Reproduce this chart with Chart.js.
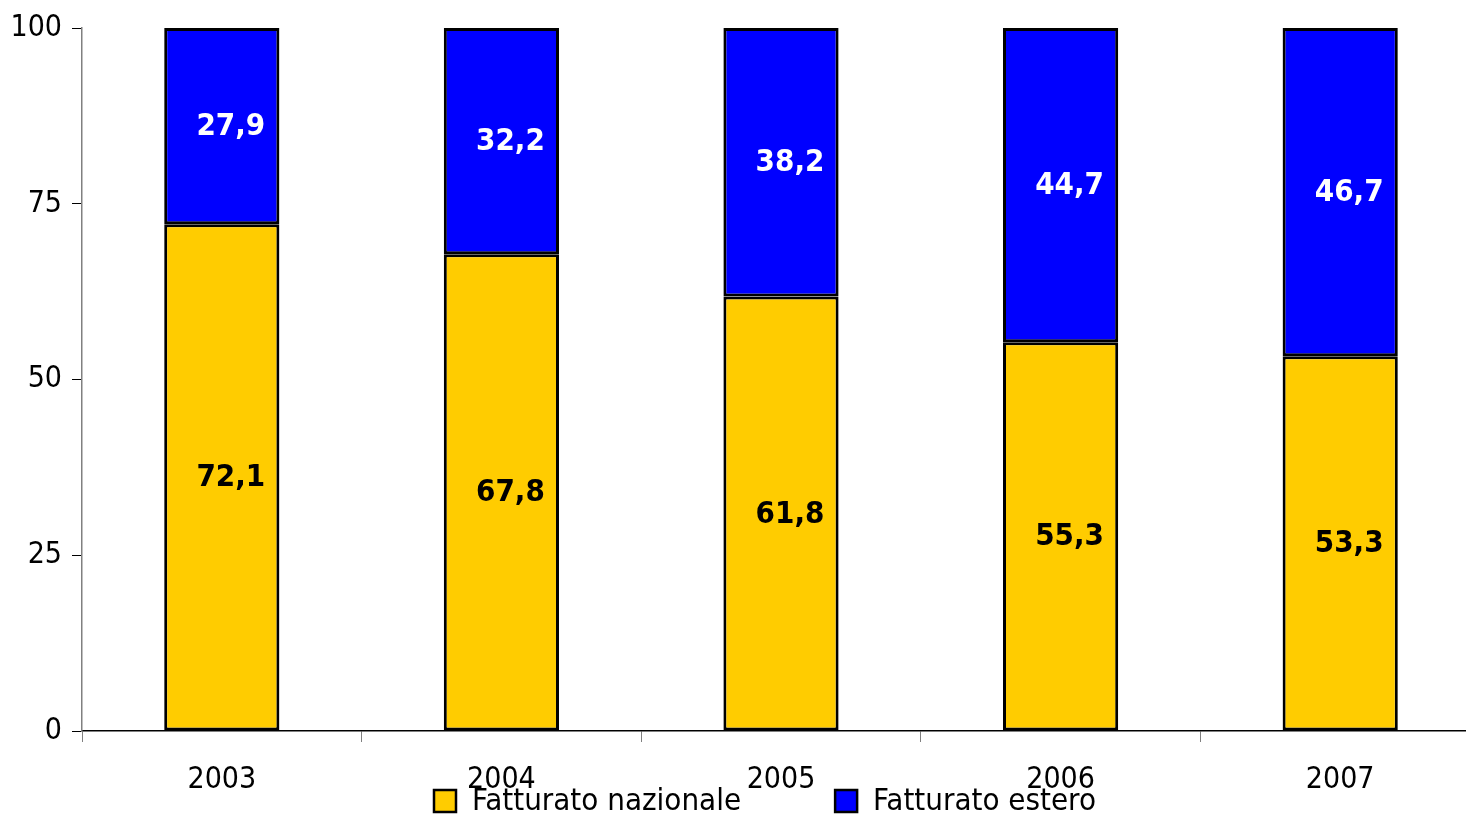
<!DOCTYPE html>
<html>
<head>
<meta charset="utf-8">
<script src="https://cdn.jsdelivr.net/npm/chart.js@4.4.1/dist/chart.umd.min.js"></script>
<style>
  html, body { margin: 0; padding: 0; background: #fff; overflow: hidden; }
  #wrap { position: relative; width: 1480px; height: 817px; }
</style>
</head>
<body>
<div id="wrap"><canvas id="chart"></canvas></div>
<script>
  // ---------- Data ----------
  const years = ["2003", "2004", "2005", "2006", "2007"];
  const nazionale = [72.1, 67.8, 61.8, 55.3, 53.3];
  const estero = [27.9, 32.2, 38.2, 44.7, 46.7];
  const yTicks = [0, 25, 50, 75, 100];

  const FONT = "'DejaVu Sans Condensed', 'DejaVu Sans', Tahoma, sans-serif";
  const COLORS = { yellow: "#FFCC00", blue: "#0000FF", ink: "#000000", axis: "#808080" };

  // value labels inside each segment
  const valueLabels = {
    id: "valueLabels",
    afterDatasetsDraw(chart) {
      const ctx = chart.ctx;
      ctx.save();
      ctx.font = "bold 31px " + FONT;
      ctx.textAlign = "center";
      ctx.textBaseline = "middle";
      chart.data.datasets.forEach((ds, i) => {
        const meta = chart.getDatasetMeta(i);
        meta.data.forEach((bar, j) => {
          const mid = (bar.y + bar.base) / 2;
          ctx.fillStyle = ds.labelColor;
          ctx.fillText(String(ds.data[j]).replace(".", ","), bar.x + 9, mid + 1);
        });
      });
      ctx.restore();
    },
  };

  // legend drawn over the bottom, overlapping the category labels like the original
  const bottomLegend = {
    id: "bottomLegend",
    afterDraw(chart) {
      const ctx = chart.ctx;
      ctx.save();
      ctx.font = "31px " + FONT;
      ctx.textBaseline = "middle";
      const yMid = 801;
      let x = 434;
      chart.data.datasets.forEach((ds) => {
        ctx.fillStyle = ds.backgroundColor;
        ctx.fillRect(x, yMid - 11, 22, 22);
        ctx.lineWidth = 2.5;
        ctx.strokeStyle = "#000";
        ctx.strokeRect(x, yMid - 11, 22, 22);
        ctx.fillStyle = COLORS.ink;
        ctx.fillText(ds.label, x + 38, yMid + 1);
        x += 38 + ctx.measureText(ds.label).width + 94;
      });
      ctx.restore();
    },
  };

  new Chart(document.getElementById("chart"), {
    type: "bar",
    data: {
      labels: years,
      datasets: [
        {
          label: "Fatturato nazionale",
          data: nazionale,
          backgroundColor: COLORS.yellow,
          borderColor: "#000",
          borderWidth: 3,
          borderSkipped: false,
          labelColor: "#000",
        },
        {
          label: "Fatturato estero",
          data: estero,
          backgroundColor: COLORS.blue,
          borderColor: "#000",
          borderWidth: 3,
          borderSkipped: false,
          labelColor: "#fff",
        },
      ],
    },
    options: {
      responsive: true,
      maintainAspectRatio: false,
      animation: false,
      layout: { padding: { top: 25, right: 0, left: 0, bottom: 0 } },
      datasets: { bar: { categoryPercentage: 1, barPercentage: 0.412 } },
      scales: {
        x: {
          stacked: true,
          grid: { drawOnChartArea: false, drawTicks: true, tickLength: 11, color: COLORS.axis, offset: true },
          border: { color: COLORS.ink, width: 1.5 },
          ticks: { color: COLORS.ink, font: { family: FONT, size: 30 }, padding: 20, maxRotation: 0 },
          afterFit(scale) { scale.height = 86; },
        },
        y: {
          stacked: true,
          min: 0,
          max: 100,
          afterBuildTicks(scale) { scale.ticks = yTicks.map((v) => ({ value: v })); },
          grid: { drawOnChartArea: false, drawTicks: true, tickLength: 10, color: COLORS.ink },
          border: { color: COLORS.axis, width: 1.5 },
          ticks: { color: COLORS.ink, font: { family: FONT, size: 30 }, padding: 10 },
          afterFit(scale) { scale.width = 82; },
        },
      },
      plugins: { legend: { display: false }, tooltip: { enabled: false } },
    },
    plugins: [valueLabels, bottomLegend],
  });
</script>
</body>
</html>
